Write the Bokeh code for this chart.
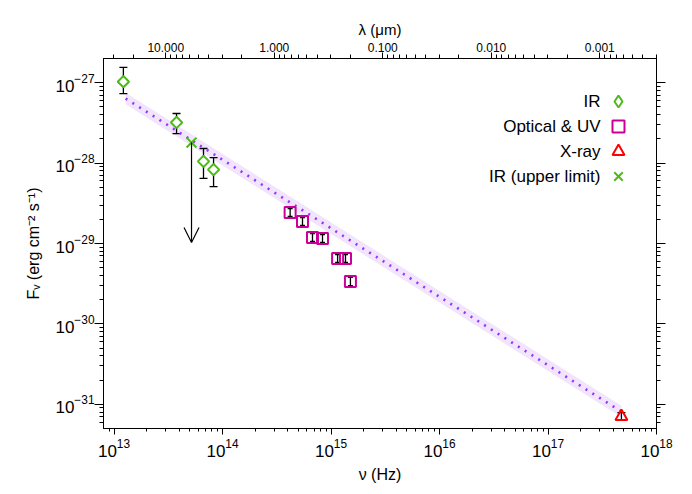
import math
from bokeh.plotting import figure
from bokeh.models import (ColumnDataSource, LogAxis, FixedTicker, CustomJSTickFormatter,
                          Whisker, TeeHead, Arrow, OpenHead, Legend, LegendItem, Label, Range1d)
from bokeh.embed import file_html
from bokeh.resources import INLINE

# ---------------- data ----------------
ir_nu = [1.22e13, 3.77e13, 6.68e13, 8.27e13]
ir_flux = [1.03e-27, 3.2e-28, 1.05e-28, 8.3e-29]
ir_hi = [1.55e-27, 4.14e-28, 1.52e-28, 1.17e-28]
ir_lo = [7.3e-28, 2.33e-28, 6.44e-29, 5.1e-29]

opt_nu = [4.2e14, 5.46e14, 6.75e14, 8.35e14, 1.15e15, 1.36e15, 1.51e15]
opt_flux = [2.43e-29, 1.88e-29, 1.19e-29, 1.15e-29, 6.5e-30, 6.5e-30, 3.37e-30]
opt_hi = [2.72e-29, 2.1e-29, 1.33e-29, 1.29e-29, 7.3e-30, 7.3e-30, 3.78e-30]
opt_lo = [2.17e-29, 1.68e-29, 1.06e-29, 1.03e-29, 5.8e-30, 5.8e-30, 3.0e-30]

xray_nu = [4.75e17]
xray_flux = [7.05e-32]
xray_hi = [7.9e-32]
xray_lo = [6.3e-32]

ul_nu = [5.18e13]
ul_flux = [1.8e-28]
ul_end = [1.03e-29]

fit_nu = [1.28e13, 4.75e17]
fit_flux = [6.35e-28, 8.1e-32]
band_lo = [5.4e-28, 6.9e-32]
band_hi = [7.5e-28, 9.6e-32]

nu_major = [1e13, 1e14, 1e15, 1e16, 1e17, 1e18]
flux_major = [1e-31, 1e-30, 1e-29, 1e-28, 1e-27]
lam_major = [10.0, 1.0, 0.1, 0.01, 0.001]
lam_minor = [30.0, 20.0, 9.0, 8.0, 7.0, 6.0, 5.0, 4.0, 3.0, 2.0,
             0.9, 0.8, 0.7, 0.6, 0.5, 0.4, 0.3, 0.2,
             0.09, 0.08, 0.07, 0.06, 0.05, 0.04, 0.03, 0.02,
             0.009, 0.008, 0.007, 0.006, 0.005, 0.004, 0.003, 0.002,
             0.0009, 0.0008, 0.0007, 0.0006, 0.0005, 0.0004, 0.0003]
C_UM = 2.99792458e14  # speed of light in micron*Hz

legend_labels = ["IR", "Optical & UV", "X-ray", "IR (upper limit)"]

X0, X1 = 8e12, 1e18
Y0, Y1 = 5e-32, 2e-27
FW, FH = 553, 370

FONT = "Liberation Sans"
GREEN = "#4cbb17"
MAGENTA = "#cc0099"
RED = "#ff0000"


def decade_minors(lo, hi):
    out = []
    e = math.floor(math.log10(lo)) - 1
    while 10.0 ** e <= hi:
        for k in range(2, 10):
            v = float(k) * 10.0 ** e
            if lo < v < hi:
                out.append(v)
        e += 1
    return out


nu_minor = decade_minors(X0, X1)
flux_minor = decade_minors(Y0, Y1)

p = figure(x_axis_type="log", y_axis_type="log",
           x_range=Range1d(X0, X1), y_range=Range1d(Y0, Y1),
           frame_width=FW, frame_height=FH,
           min_border_left=103, min_border_right=27, min_border_top=58, min_border_bottom=55,
           output_backend="svg", toolbar_location=None,
           background_fill_color="white", border_fill_color="white")
p.outline_line_color = "black"
p.outline_line_width = 1
p.xgrid.visible = False
p.ygrid.visible = False


def style_axis(ax, major_len, minor_len):
    ax.axis_line_color = "black"
    ax.major_tick_line_color = "black"
    ax.minor_tick_line_color = "black"
    ax.major_tick_in = 0
    ax.major_tick_out = major_len
    ax.minor_tick_in = 0
    ax.minor_tick_out = minor_len
    ax.major_label_text_font = FONT
    ax.major_label_text_color = "black"
    ax.axis_label_text_font = FONT
    ax.axis_label_text_font_style = "normal"
    ax.axis_label_text_color = "black"


xa = p.xaxis[0]
style_axis(xa, 6, 3)
xa.ticker = FixedTicker(ticks=nu_major, minor_ticks=nu_minor)
xa.major_label_text_font_size = "17px"
xa.major_label_standoff = 4
xa.axis_label = "ν (Hz)"
xa.axis_label_text_font_size = "16px"
xa.axis_label_standoff = 6

ya = p.yaxis[0]
style_axis(ya, 9, 4)
ya.ticker = FixedTicker(ticks=flux_major, minor_ticks=flux_minor)
ya.major_label_text_font_size = "17px"
ya.major_label_standoff = 0
ya.axis_label = "F\u1d65 (erg cm\u207b\u00b2 s\u207b\u00b9)"
ya.axis_label_text_font_size = "16px"
ya.axis_label_standoff = 10

top = LogAxis(ticker=FixedTicker(ticks=[C_UM / l for l in lam_major],
                                 minor_ticks=[C_UM / l for l in lam_minor]),
              formatter=CustomJSTickFormatter(code="return (%r / tick).toFixed(3);" % C_UM))
style_axis(top, 6, 4)
top.major_label_text_font_size = "12px"
top.major_label_standoff = 1
top.axis_label = "λ (μm)"
top.axis_label_text_font_size = "15px"
top.axis_label_standoff = 2
p.add_layout(top, "above")

right = LogAxis(ticker=FixedTicker(ticks=flux_major, minor_ticks=flux_minor),
                formatter=CustomJSTickFormatter(code="return '';"))
style_axis(right, 9, 4)
p.add_layout(right, "right")

# ---------------- fit band and line ----------------
fit_src = ColumnDataSource(dict(nu=fit_nu, f=fit_flux, lo=band_lo, hi=band_hi))
p.varea(x="nu", y1="lo", y2="hi", source=fit_src, fill_color="#f1e4fd", fill_alpha=1.0, level="underlay")
p.line(x="nu", y="f", source=fit_src, line_color="#9933ff", line_width=2.6, line_dash="2 6")

# ---------------- IR ----------------
ir_src = ColumnDataSource(dict(nu=ir_nu, f=ir_flux, lo=ir_lo, hi=ir_hi))
w_ir = Whisker(source=ir_src, base="nu", upper="hi", lower="lo", dimension="height",
               line_color="black", line_width=1.3,
               upper_head=TeeHead(size=8, line_color="black", line_width=1.3),
               lower_head=TeeHead(size=8, line_color="black", line_width=1.3))
w_ir.level = "underlay"
p.add_layout(w_ir)
r_ir_leg = p.scatter(x="nu", y="f", source=ir_src, marker="diamond", size=0,
                     line_color=GREEN, line_width=2, fill_color=None)
p.scatter(x="nu", y="f", source=ir_src, marker="square", angle=math.pi / 4, size=8,
          line_color=GREEN, line_width=2, fill_color="white")

# ---------------- optical / UV ----------------
opt_src = ColumnDataSource(dict(nu=opt_nu, f=opt_flux, lo=opt_lo, hi=opt_hi))
r_opt = p.scatter(x="nu", y="f", source=opt_src, marker="square", size=11,
                  line_color=MAGENTA, line_width=2, fill_color=None)
p.add_layout(Whisker(source=opt_src, base="nu", upper="hi", lower="lo", dimension="height",
                     line_color="black", line_width=1.3,
                     upper_head=TeeHead(size=5, line_color="black", line_width=1.3),
                     lower_head=TeeHead(size=5, line_color="black", line_width=1.3)))

# ---------------- X-ray ----------------
x_src = ColumnDataSource(dict(nu=xray_nu, f=xray_flux, lo=xray_lo, hi=xray_hi))
r_x = p.scatter(x="nu", y="f", source=x_src, marker="triangle", size=12,
                line_color=RED, line_width=2, fill_color=None)
p.add_layout(Whisker(source=x_src, base="nu", upper="hi", lower="lo", dimension="height",
                     line_color="black", line_width=1.3,
                     upper_head=TeeHead(size=8, line_color="black", line_width=1.3),
                     lower_head=TeeHead(size=8, line_color="black", line_width=1.3)))

# ---------------- upper limit ----------------
ul_src = ColumnDataSource(dict(nu=ul_nu, f=ul_flux, e=ul_end))
p.add_layout(Arrow(source=ul_src, x_start="nu", y_start="f", x_end="nu", y_end="e",
                   line_color="black", line_width=1.2,
                   end=OpenHead(size=15, line_color="black", line_width=1.2)))
r_ul = p.scatter(x="nu", y="f", source=ul_src, marker="x", size=14,
                 line_color=GREEN, line_width=2)

# ---------------- legend (glyphs on the right of right-aligned text) ----------------
leg_y = [327, 302, 277, 252]
for r, yy in zip((r_ir_leg, r_opt, r_x, r_ul), leg_y):
    p.add_layout(Legend(items=[LegendItem(label=" ", renderers=[r])],
                        location=(500, yy - 15), glyph_width=30, glyph_height=30, spacing=0,
                        padding=0, margin=0, label_standoff=0, label_text_font_size="1px",
                        border_line_alpha=0, background_fill_alpha=0))
for txt, yy in zip(legend_labels, leg_y):
    p.add_layout(Label(x=497, y=yy, x_units="screen", y_units="screen", text=txt,
                       text_align="right", text_baseline="middle",
                       text_font=FONT, text_font_size="17px", text_color="black"))

open("out.html", "w").write(file_html(p, INLINE))
